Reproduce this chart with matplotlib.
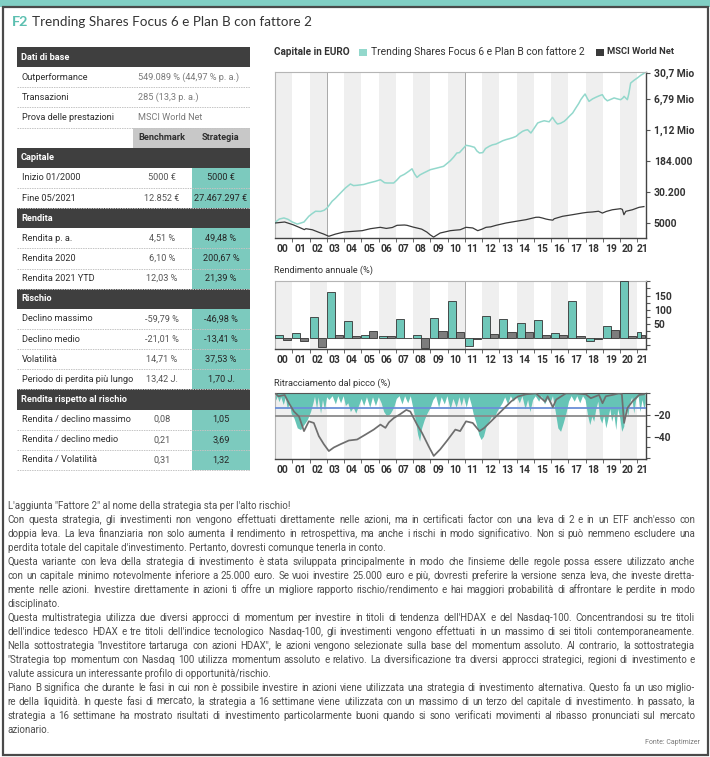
import matplotlib
matplotlib.use("Agg")
import matplotlib.pyplot as plt
from matplotlib.patches import Rectangle
from matplotlib.ticker import MultipleLocator, NullLocator
import numpy as np

plt.rcParams['font.family'] = ['Liberation Sans Narrow', 'Roboto', 'DejaVu Sans']

# ---------------------------------------------------------------- data
title_tag = "F2"
title_text = "Trending Shares Focus 6 e Plan B con fattore 2"

info_labels = ["Outperformance", "Transazioni", "Prova delle prestazioni"]
info_values = ["549.089 % (44,97 % p. a.)", "285 (13,3 p. a.)", "MSCI World Net"]
col_headers = ["Benchmark", "Strategia"]

section_names = ["Capitale", "Rendita", "Rischio", "Rendita rispetto al rischio"]
capitale_labels = ["Inizio 01/2000", "Fine 05/2021"]
capitale_bench = ["5000 €", "12.852 €"]
capitale_strat = ["5000 €", "27.467.297 €"]
rendita_labels = ["Rendita p. a.", "Rendita 2020", "Rendita 2021 YTD"]
rendita_bench = ["4,51 %", "6,10 %", "12,03 %"]
rendita_strat = ["49,48 %", "200,67 %", "21,39 %"]
rischio_labels = ["Declino massimo", "Declino medio", "Volatilità", "Periodo di perdita più lungo"]
rischio_bench = ["-59,79 %", "-21,01 %", "14,71 %", "13,42 J."]
rischio_strat = ["-46,98 %", "-13,41 %", "37,53 %", "1,70 J."]
rr_labels = ["Rendita / declino massimo", "Rendita / declino medio", "Rendita / Volatilità"]
rr_bench = ["0,08", "0,21", "0,31"]
rr_strat = ["1,05", "3,69", "1,32"]

years = list(range(2000, 2022))
year_labels = ["00", "01", "02", "03", "04", "05", "06", "07", "08", "09", "10",
               "11", "12", "13", "14", "15", "16", "17", "18", "19", "20", "21"]

legend_title = "Capitale in EURO"
legend_strat = "Trending Shares Focus 6 e Plan B con fattore 2"
legend_bench = "MSCI World Net"
cap_ticks = [5000, 30200, 184000, 1.12e6, 6.79e6, 30.7e6]
cap_tick_labels = ["5000", "30.200", "184.000", "1,12 Mio", "6,79 Mio", "30,7 Mio"]

strat_t = [2000.00, 2000.08, 2000.25, 2000.52, 2000.75,
           2001.00, 2001.29, 2001.50, 2001.68, 2001.96,
           2002.15, 2002.35, 2002.64, 2002.85,
           2003.02, 2003.31, 2003.50, 2003.70,
           2004.08, 2004.37, 2004.55, 2004.76,
           2005.14, 2005.43, 2005.82,
           2006.11, 2006.35, 2006.49, 2006.88,
           2007.05, 2007.26, 2007.50, 2007.75, 2007.94,
           2008.10, 2008.23, 2008.40, 2008.61,
           2009.00, 2009.38, 2009.77,
           2010.16, 2010.35, 2010.54, 2010.69, 2010.93,
           2011.07, 2011.30, 2011.56, 2011.70, 2011.85,
           2012.04, 2012.20, 2012.42, 2012.60, 2012.81,
           2013.00, 2013.20, 2013.40, 2013.58, 2013.80, 2013.97,
           2014.15, 2014.35, 2014.50, 2014.64, 2014.83,
           2015.00, 2015.22, 2015.40, 2015.60, 2015.75, 2015.89,
           2016.08, 2016.25, 2016.37, 2016.55, 2016.76, 2016.90,
           2017.05, 2017.25, 2017.43, 2017.60, 2017.72, 2017.85, 2017.97,
           2018.10, 2018.20, 2018.40, 2018.59, 2018.80, 2018.97,
           2019.10, 2019.26, 2019.45, 2019.65, 2019.85,
           2020.03, 2020.15, 2020.23, 2020.42, 2020.50, 2020.61, 2020.80,
           2021.00, 2021.20, 2021.38]
strat_v = [5000, 5500, 6300, 6700, 6200,
           5300, 4700, 5000, 5300, 7400,
           8600, 9900, 9800, 10500,
           12000, 17700, 21000, 25900,
           38300, 48300, 44000, 44800,
           47000, 51200, 56500,
           62000, 52000, 51200, 51200,
           60000, 75500, 85000, 101000, 117000,
           85000, 71000, 82000, 91600,
           111000, 122000, 135000,
           187000, 230000, 293000, 300000, 391000,
           458000, 440000, 408000, 330000, 293000,
           300000, 380000, 434000, 470000, 494000,
           540000, 598000, 640000, 672000, 720000, 772000,
           900000, 1035000, 1100000, 1135000, 937000,
           1200000, 1675000, 1800000, 1910000, 1850000, 1800000,
           2330000, 1800000, 1580000, 1650000, 1850000, 2100000,
           2470000, 3000000, 4000000, 5200000, 6500000, 7800000, 9050000,
           7000000, 5900000, 6800000, 7470000, 8200000, 8700000,
           7000000, 6100000, 6600000, 7200000, 6800000,
           6500000, 7100000, 7900000, 6500000, 9000000, 17100000, 20000000,
           23000000, 27000000, 30000000]

msci_t = [2000.00, 2000.20, 2000.56, 2000.80,
          2001.04, 2001.40, 2001.70, 2001.79,
          2002.16, 2002.54, 2002.80,
          2003.12, 2003.50, 2003.98,
          2004.57,
          2005.05, 2005.53,
          2006.10, 2006.45, 2006.80,
          2007.07, 2007.50, 2007.65,
          2008.00, 2008.23, 2008.50, 2008.80,
          2009.00, 2009.19, 2009.57,
          2010.16, 2010.45, 2010.73,
          2011.07, 2011.46, 2011.75,
          2012.00, 2012.23, 2012.50, 2012.81,
          2013.39, 2013.97,
          2014.54,
          2015.12, 2015.30, 2015.50, 2015.70, 2015.89,
          2016.10, 2016.18, 2016.66,
          2017.24, 2017.82,
          2018.10, 2018.40, 2018.75, 2018.97,
          2019.20, 2019.55,
          2020.03, 2020.13, 2020.22, 2020.33, 2020.71,
          2021.10, 2021.38]
msci_v = [5000, 5100, 5300, 4900,
          4530, 3890, 3400, 3590,
          3380, 2910, 2650,
          2310, 2620, 2950,
          3090,
          3200, 3590,
          3890, 3650, 3850,
          4370, 4450, 4370,
          3950, 3740, 3500, 2950,
          2500, 2200, 2790,
          3200, 3300, 3380,
          3890, 3750, 3200,
          3500, 3890, 4000, 4370,
          5000, 5520,
          6060,
          6970, 7000, 6680, 6300, 6060,
          5900, 6400, 7380,
          8100, 8950,
          9300, 9500, 9900, 8900,
          9800, 10800,
          11500, 11000, 8100, 9860, 10800,
          12450, 13000]

bar_strat = [11.5, 17, 75, 161, 60, 10, 7, 69, 10, 72, 130, -26,
             77, 67, 52, 63, 17, 132, -9, 43, 200.67, 21.39]
bar_bench = [-6, -11.5, -31, 11.5, 7, 26, 8, 1, -36, 26, 22, -2,
             15, 22, 20, 11, 11, 8, -4, 30, 6.10, 12.03]
bar_title = "Rendimento annuale (%)"

dd_title = "Ritracciamento dal picco (%)"
dd_mean_strat = -13.41
dd_mean_bench = -21.01
dd_t = [2000.00, 2000.04, 2000.13, 2000.23, 2000.33, 2000.48, 2000.60, 2000.71, 2000.83, 2000.94,
        2001.10, 2001.29, 2001.48, 2001.68, 2001.87,
        2002.06, 2002.20, 2002.29, 2002.41, 2002.50, 2002.64, 2002.75, 2002.87, 2002.99,
        2003.12, 2003.31, 2003.50, 2003.64, 2003.80, 2003.95,
        2004.08, 2004.22, 2004.37, 2004.53, 2004.68, 2004.84, 2004.99,
        2005.14, 2005.30, 2005.49, 2005.65, 2005.82, 2005.99,
        2006.15, 2006.30, 2006.49, 2006.69, 2006.88,
        2007.03, 2007.19, 2007.36, 2007.51, 2007.69, 2007.84,
        2008.00, 2008.13, 2008.27, 2008.38, 2008.50, 2008.65, 2008.81,
        2009.00, 2009.15, 2009.31, 2009.48, 2009.63, 2009.81, 2009.96,
        2010.15, 2010.31, 2010.50, 2010.66, 2010.79, 2010.92,
        2011.08, 2011.23, 2011.36, 2011.50, 2011.65, 2011.81, 2011.94,
        2012.08, 2012.23, 2012.39, 2012.54, 2012.69, 2012.85,
        2013.00, 2013.16, 2013.31, 2013.48, 2013.64, 2013.81, 2013.97,
        2014.16, 2014.31, 2014.49, 2014.64, 2014.77, 2014.93,
        2015.08, 2015.28, 2015.43, 2015.62, 2015.78, 2015.93,
        2016.08, 2016.24, 2016.39, 2016.55, 2016.70, 2016.86,
        2017.01, 2017.16, 2017.34, 2017.49, 2017.66, 2017.82, 2017.97,
        2018.11, 2018.24, 2018.36, 2018.47, 2018.59, 2018.71, 2018.82, 2018.94,
        2019.05, 2019.17, 2019.28, 2019.40, 2019.51, 2019.63, 2019.75, 2019.86, 2019.98,
        2020.09, 2020.21, 2020.32, 2020.44, 2020.55, 2020.67, 2020.79, 2020.90,
        2021.04, 2021.15, 2021.27, 2021.38, 2021.45]
dd_strat = [-2.5, -6.5, -3, -8, -3.5, -10.5, -3.5, -14.5, -9, -19,
            -23, -32, -33.6, -29, -24.5,
            -17, -9, -3, -14.5, -3.5, -18.5, -6, -15.5, -3.5,
            -6, -2.5, -10, -2.5, -9, -2.5,
            -11.5, -9, -17, -13, -18.5, -11.5, -5,
            -11.5, -3.5, -13, -3.5, -11.5, -3.5,
            -9, -17, -21.5, -18.5, -13,
            -5, -2.5, -10, -2.5, -9, -2.5,
            -14.5, -24.5, -38.2, -44.2, -32, -24.5, -18.5,
            -13, -6, -2.5, -13, -3.5, -10, -2.5,
            -14.5, -5, -13, -3.5, -11.5, -3.5,
            -13, -3, -10, -20, -27.6, -38.2, -42.7,
            -39.7, -30.6, -26, -21.5, -23, -17,
            -13, -9, -3.5, -10, -2.5, -7.5, -2.5,
            -9, -2.5, -14.5, -6, -17, -6,
            -2.5, -7.5, -2.5, -10, -5, -9,
            -2.5, -17, -32, -35.2, -27.6, -18.5,
            -7.5, -2.5, -7.5, -2.5, -9, -2.5, -6,
            -20, -29, -21.5, -26, -14.5, -7.5, -23, -27.6,
            -20, -32, -24.5, -14.5, -26, -18.5, -33.6, -14.5, -23,
            -35.2, -30.6, -11.5, -21.5, -9, -3.5, -18.5, -6,
            -2.5, -17, -6, -14.5, -9]
ddm_t = [2000.00, 2000.20, 2000.56, 2000.81,
         2001.10, 2001.39, 2001.68, 2001.96,
         2002.25, 2002.54, 2002.83,
         2003.12, 2003.41, 2003.80,
         2004.28, 2004.76,
         2005.24, 2005.72,
         2006.11, 2006.40, 2006.60, 2006.88,
         2007.26, 2007.61, 2007.84,
         2008.23, 2008.52, 2008.90,
         2009.20, 2009.57, 2009.96,
         2010.45, 2010.73,
         2011.07, 2011.46, 2011.85,
         2012.13, 2012.52, 2012.90,
         2013.29, 2013.68,
         2014.06, 2014.54,
         2015.12, 2015.65, 2015.80,
         2016.10, 2016.30, 2016.86,
         2017.43,
         2018.01, 2018.30, 2018.78, 2018.98,
         2019.17, 2019.55, 2019.94,
         2020.10, 2020.23, 2020.42, 2020.71,
         2021.10, 2021.38]
ddm_v = [0, -3, -1.8, -9.4,
         -17, -21.5, -35, -26,
         -27.5, -39.6, -47,
         -53.3, -50, -47,
         -43.6, -42.7,
         -38.2, -33.6,
         -29, -32, -27, -23,
         -19.4, -15.5, -17,
         -29, -36.6, -48.8,
         -57.8, -51.8, -44,
         -33.6, -35,
         -26, -27.5, -35,
         -32, -26, -20,
         -13.9, -7.8,
         -3.3, -1.2,
         -0.3, -8, -3,
         -13, -6, -0.3,
         -0.3,
         -1.2, -4.8, -1.8, -9.4,
         -3, -1.8, -0.3,
         -1.0, -27.5, -13.9, -7.8,
         -1.8, -1.2]

body_lines = [
    "L'aggiunta \"Fattore 2\" al nome della strategia sta per l'alto rischio!",
    "Con questa strategia, gli investimenti non vengono effettuati direttamente nelle azioni, ma in certificati factor con una leva di 2 e in un ETF anch'esso con",
    "doppia leva. La leva finanziaria non solo aumenta il rendimento in retrospettiva, ma anche i rischi in modo significativo. Non si può nemmeno escludere una",
    "perdita totale del capitale d'investimento. Pertanto, dovresti comunque tenerla in conto.",
    "Questa variante con leva della strategia di investimento è stata sviluppata principalmente in modo che l'insieme delle regole possa essere utilizzato anche",
    "con un capitale minimo notevolmente inferiore a 25.000 euro. Se vuoi investire 25.000 euro e più, dovresti preferire la versione senza leva, che investe diretta-",
    "mente nelle azioni. Investire direttamente in azioni ti offre un migliore rapporto rischio/rendimento e hai maggiori probabilità di affrontare le perdite in modo",
    "disciplinato.",
    "Questa multistrategia utilizza due diversi approcci di momentum per investire in titoli di tendenza dell'HDAX e del Nasdaq-100. Concentrandosi su tre titoli",
    "dell'indice tedesco HDAX e tre titoli dell'indice tecnologico Nasdaq-100, gli investimenti vengono effettuati in un massimo di sei titoli contemporaneamente.",
    "Nella sottostrategia \"Investitore tartaruga con azioni HDAX\", le azioni vengono selezionate sulla base del momentum assoluto. Al contrario, la sottostrategia",
    "\"Strategia top momentum con Nasdaq 100 utilizza momentum assoluto e relativo. La diversificazione tra diversi approcci strategici, regioni di investimento e",
    "valute assicura un interessante profilo di opportunità/rischio.",
    "Piano B significa che durante le fasi in cui non è possibile investire in azioni viene utilizzata una strategia di investimento alternativa. Questo fa un uso miglio-",
    "re della liquidità. In queste fasi di mercato, la strategia a 16 settimane viene utilizzata con un massimo di un terzo del capitale di investimento. In passato, la",
    "strategia a 16 settimane ha mostrato risultati di investimento particolarmente buoni quando si sono verificati movimenti al ribasso pronunciati sul mercato",
    "azionario.",
]
body_justified = [False, True, True, False, True, True, True, False,
                  True, True, True, True, False, True, True, True, False]
source_text = "Fonte: Captimizer"

# ---------------------------------------------------------------- style
TEAL_BAND = '#80cfc4'
TEAL_TXT = '#5bbfb0'
TEAL_CELL = '#7ccabe'
TEAL_LINE = '#93d8cc'
TEAL_BAR = '#6fc7b9'
TEAL_FILL = '#66c4b6'
DARK_HDR = '#3f3f3f'
BAND_GRAY = '#efefef'
TXT = '#2e2e2e'
TICK_FS = 7.4

W, H = 710, 757
fig = plt.figure(figsize=(W / 100, H / 100), dpi=100)
fig.patch.set_facecolor('white')
R = fig.canvas.get_renderer()

bg = fig.add_axes([0, 0, 1, 1], zorder=0)
bg.set_xlim(0, W)
bg.set_ylim(H, 0)
bg.axis('off')


def fit(ax, x, y, s, width, size=8.0, **kw):
    t = ax.text(x, y, s, fontsize=size, **kw)
    w = t.get_window_extent(R).width
    t.set_fontsize(size * width / w)
    return t


def px_rect(l, t, r, b):
    return [l / W, 1 - b / H, (r - l) / W, (b - t) / H]


# frame
bg.add_patch(Rectangle((0, 0), W, 7, fc=TEAL_BAND, lw=0))
bg.add_patch(Rectangle((2.5, 7), W - 5, H - 9.5, fill=False, ec='#4a4a4a', lw=1.6))

# title
fit(bg, 12, 22, title_tag, 16.5, size=10, color=TEAL_TXT, fontweight='bold',
    family=['Lato', 'DejaVu Sans'], va='center')
fit(bg, 31.5, 22, title_text, 278, size=10, color='#333333',
    family=['Lato', 'DejaVu Sans'], va='center')

# ---------------------------------------------------------------- table
TX0, TX1 = 17, 250
RH = 20.14
TY0 = 47
probe = bg.text(0, 0, "Periodo di perdita più lungo", fontsize=8)
fs_tab = 8 * 111 / probe.get_window_extent(R).width
probe.remove()

rows = [('hdr', 'Dati di base')]
for l, v in zip(info_labels, info_values):
    rows.append(('info', l, v))
rows.append(('col',))
for name, labs, bv, sv in zip(section_names,
                              [capitale_labels, rendita_labels, rischio_labels, rr_labels],
                              [capitale_bench, rendita_bench, rischio_bench, rr_bench],
                              [capitale_strat, rendita_strat, rischio_strat, rr_strat]):
    rows.append(('hdr', name))
    for l, b, s in zip(labs, bv, sv):
        rows.append(('data', l, b, s))

for i, row in enumerate(rows):
    top = TY0 + i * RH
    cy = top + RH / 2
    kind = row[0]
    if kind == 'hdr':
        bg.add_patch(Rectangle((TX0, top), TX1 - TX0, RH, fc=DARK_HDR, lw=0))
        bg.text(21, cy, row[1], fontsize=fs_tab, color='white', fontweight='bold', va='center')
    elif kind == 'info':
        bg.text(21.5, cy, row[1], fontsize=fs_tab, color=TXT, va='center')
        bg.text(138, cy, row[2], fontsize=fs_tab, color='#7a7a7a', va='center')
    elif kind == 'col':
        bg.add_patch(Rectangle((133, top), TX1 - 133, RH, fc='#c8c8c8', lw=0))
        bg.text(162, cy, col_headers[0], fontsize=fs_tab, color=TXT, fontweight='bold',
                va='center', ha='center')
        bg.text(221, cy, col_headers[1], fontsize=fs_tab, color=TXT, fontweight='bold',
                va='center', ha='center')
    else:
        bg.add_patch(Rectangle((192, top), TX1 - 192, RH, fc=TEAL_CELL, lw=0))
        bg.text(21.5, cy, row[1], fontsize=fs_tab, color=TXT, va='center')
        bg.text(162, cy, row[2], fontsize=fs_tab, color='#555555', va='center', ha='center')
        bg.text(221, cy, row[3], fontsize=fs_tab, color='#262626', va='center', ha='center')
    if kind in ('info', 'data'):
        bg.plot([TX0, TX1], [top + RH, top + RH], color='#c4c4c4', lw=0.7,
                ls=(0, (1.5, 1)), zorder=3)

# ---------------------------------------------------------------- charts
XMIN, XMAX = 2000, 2021.5
label_pos = [y + 0.45 for y in years[:-2]] + [2020.4, 2021.3]


def style_axis(ax):
    for y0 in years:
        if y0 % 2 == 0:
            ax.axvspan(y0, min(y0 + 1, XMAX), color=BAND_GRAY, lw=0, zorder=0)
    ax.set_xlim(XMIN, XMAX)
    ax.yaxis.tick_right()
    ax.set_xticks(label_pos)
    ax.set_xticklabels(year_labels)
    ax.set_xticks(years[1:], minor=True)
    ax.tick_params(axis='x', which='major', length=0, pad=4, labelsize=TICK_FS,
                   labelcolor='#333333')
    ax.tick_params(axis='x', which='minor', length=3, color='#666666', width=0.7)
    ax.tick_params(axis='y', which='both', direction='out', length=3, color='#555555',
                   labelsize=TICK_FS, pad=2.5, labelcolor='#333333', width=0.8)
    for lab in ax.get_xticklabels():
        lab.set_fontweight('bold')
    for s in ['top', 'left']:
        ax.spines[s].set_color('#b5b5b5')
        ax.spines[s].set_linewidth(0.8)
    for s in ['right', 'bottom']:
        ax.spines[s].set_color('#444444')
        ax.spines[s].set_linewidth(1.0)
    ax.set_facecolor('white')


# top chart: capital (log)
ax1 = fig.add_axes(px_rect(275, 72, 646, 238), zorder=2)
style_axis(ax1)
ax1.set_yscale('log')
ax1.set_ylim(5000 / 10 ** (15 / 39.6), 30.7e6 * 10 ** (1 / 39.6))
ax1.set_yticks(cap_ticks)
ax1.set_yticklabels(cap_tick_labels)
ax1.yaxis.set_minor_locator(NullLocator())
for lab in ax1.get_yticklabels():
    lab.set_fontweight('bold')
ax1.axvline(2003, color='#a8a8a8', lw=0.7, zorder=1)
ax1.axvline(2011, color='#a8a8a8', lw=0.7, zorder=1)
ax1.plot(strat_t, strat_v, color=TEAL_LINE, lw=1.1, zorder=3)
ax1.plot(msci_t, msci_v, color='#3a3a3a', lw=0.9, zorder=3)

# legend line above
fit(bg, 274, 52, legend_title, 76, size=8, color='#333333', fontweight='bold', va='center')
bg.add_patch(Rectangle((359, 48.5), 7.5, 7.5, fc=TEAL_LINE, lw=0))
fit(bg, 371, 52, legend_strat, 214, size=8, color='#333333', va='center')
bg.add_patch(Rectangle((596, 48.5), 7.5, 7.5, fc='#3a3a3a', lw=0))
fit(bg, 607, 52, legend_bench, 67, size=8, color='#333333', fontweight='bold', va='center')

# bar chart: annual return
ax2 = fig.add_axes(px_rect(275, 281, 646, 349), zorder=2)
style_axis(ax2)
ax2.set_ylim(-38, 201)
ax2.set_yticks([50, 100, 150])
ax2.yaxis.set_minor_locator(MultipleLocator(25))
for lab in ax2.get_yticklabels():
    lab.set_fontweight('bold')
spans = [min(1.0, XMAX - y) for y in years]
bw = [0.47 * s for s in spans]
ax2.axvline(2011, color='#a8a8a8', lw=0.7, zorder=1)
ax2.bar(years, bar_strat, width=bw, align='edge', color=TEAL_BAR, edgecolor='#333333',
        lw=0.6, zorder=3)
ax2.bar([y + w for y, w in zip(years, bw)], bar_bench, width=bw, align='edge',
        color='#7d7d7d', edgecolor='#333333', lw=0.6, zorder=3)
fit(bg, 274, 270, bar_title, 99, size=8, color='#333333', va='center')

# drawdown chart
ax3 = fig.add_axes(px_rect(275, 393, 646, 459), zorder=2)
style_axis(ax3)
ax3.set_ylim(-60.6, 0)
ax3.set_yticks([-20, -40])
ax3.yaxis.set_minor_locator(MultipleLocator(10))
for lab in ax3.get_yticklabels():
    lab.set_fontweight('bold')
ax3.fill_between(dd_t, dd_strat, 0, color=TEAL_FILL, lw=0, zorder=2)
ax3.axhline(dd_mean_strat, color='#6b8fd8', lw=1.3, zorder=4)
ax3.axhline(dd_mean_bench, color='#8a8a8a', lw=1.3, zorder=4)
ax3.plot(ddm_t, ddm_v, color='#6e6e6e', lw=1.25, zorder=5)
ax3.spines['top'].set_color('#555555')
fit(bg, 274, 383, dd_title, 118, size=8, color='#333333', va='center')

# ---------------------------------------------------------------- body text
BX0, BX1 = 7.5, 695
BODY_KW = dict(color='#4d4d4d', fontweight='normal')
nat = []
for s, j in zip(body_lines, body_justified):
    if j:
        t = bg.text(0, 0, s, fontsize=8, **BODY_KW)
        nat.append(t.get_window_extent(R).width)
        t.remove()
fs_body = 8 * float(np.median([(BX1 - BX0) / w for w in nat])) * 0.975


def word_w(w):
    t = bg.text(0, 0, w, fontsize=fs_body, **BODY_KW)
    wd = t.get_window_extent(R).width
    t.remove()
    return wd


for k, (s, j) in enumerate(zip(body_lines, body_justified)):
    yb = 505 + 14 * k + 3.6
    if not j:
        bg.text(BX0, yb, s, fontsize=fs_body, va='baseline', **BODY_KW)
        continue
    words = s.split(' ')
    ws = [word_w(w) for w in words]
    gap = max(1.0, (BX1 - BX0 - sum(ws)) / (len(words) - 1))
    x = BX0
    for w, wd in zip(words, ws):
        bg.text(x, yb, w, fontsize=fs_body, va='baseline', **BODY_KW)
        x += wd + gap

fit(bg, 700, 742, source_text, 55, size=6, color='#7a7a7a', ha='right', va='center')

fig.savefig('out.png', dpi=100)
